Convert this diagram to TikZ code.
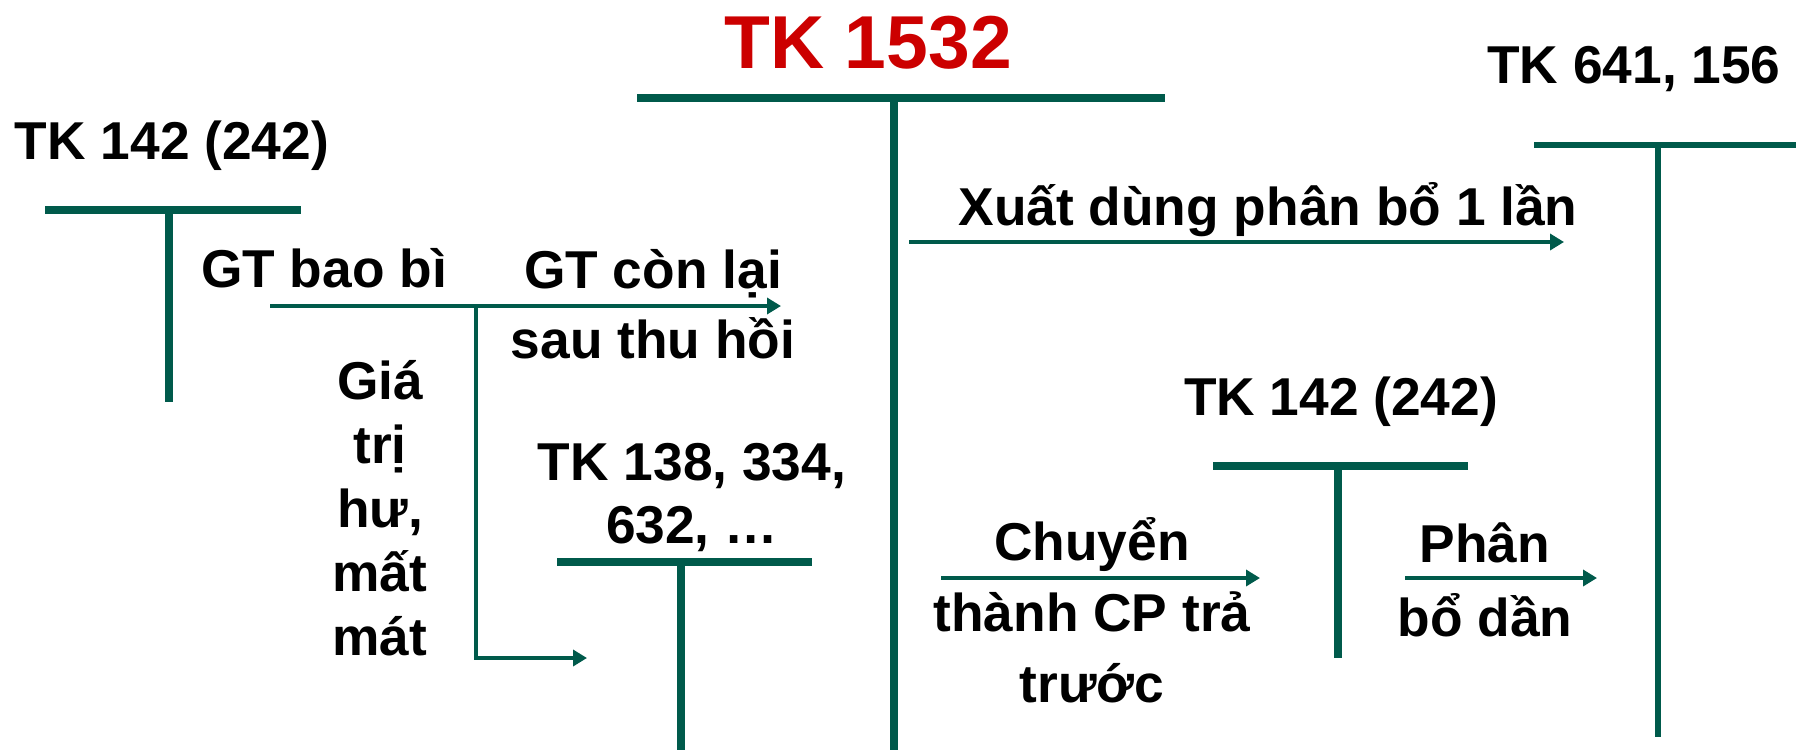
\documentclass[tikz,border=0pt]{standalone}
\usepackage{fontspec}
\setmainfont{Liberation Sans}
\usepackage{tikz}
\usetikzlibrary{arrows.meta}
\usetikzlibrary{calc}
\definecolor{tcolor}{HTML}{005A4B}
\definecolor{titlered}{HTML}{CC0000}

\tikzset{
  txt/.style={inner sep=0pt, anchor=base, align=center, font=\fontsize{53.3}{70}\selectfont\bfseries},
  flow/.style={tcolor, line width=3.5pt, -{Triangle[length=14pt,width=16pt]}},
}

\begin{document}
\begin{tikzpicture}[x=1pt,y=-1pt]
\useasboundingbox (0,0) rectangle (1799,750);
%% T accounts: bar left / bar right / bar height / stem x / stem end / width
\foreach \l/\r/\y/\s/\e/\w in {45/301/210/169/402/8.5, 637/1165/98/894/750/8.5,
    557/812/562/681/750/8.5, 1213/1468/466/1338/658/8.5, 1534/1796/145/1658/737/6.5}
  {
  \draw[tcolor, line width=\w pt] (\l,\y) -- (\r,\y);
  \draw[tcolor, line width=\w pt] (\s,\y) -- (\s,\e);
  }
%% account names (multi-line nodes sit on their last line)
\node[txt, text=titlered, font=\fontsize{75}{80}\selectfont\bfseries] (tk1532) at (868,68) {TK 1532};
\node[txt] (tk142a) at (172,159) {TK 142 (242)};
\node[txt] (tk641) at (1634,83) {TK 641, 156};
\node[txt, font=\fontsize{53.3}{63}\selectfont\bfseries] (tk138) at (692,543) {TK 138, 334,\\632, …};
\node[txt] (tk142b) at (1341,415) {TK 142 (242)};
%% entries
\node[txt] (baobi) at (324,287) {GT bao bì};
\node[txt] (conlai) at (653,358) {GT còn lại\\sau thu hồi};
\node[txt, font=\fontsize{53.3}{64}\selectfont\bfseries] (matmat) at (380,655) {Giá\\trị\\hư,\\mất\\mát};
\node[txt] (xuat) at (1268,225) {Xuất dùng phân bổ 1 lần};
\node[txt, font=\fontsize{53.3}{71}\selectfont\bfseries] (chuyen) at (1092,702) {Chuyển\\thành CP trả\\trước};
\node[txt, font=\fontsize{53.3}{74}\selectfont\bfseries] (phan) at (1485,636) {Phân\\bổ dần};
%% arrow ends
\coordinate (baobiS) at (270,306);
\coordinate (baobiE) at (781,306);
\coordinate (split) at (476,306);
\coordinate (matE) at (587,658);
\coordinate (xuatS) at (909,242);
\coordinate (xuatE) at (1564,242);
\coordinate (chuyenS) at (941,578);
\coordinate (chuyenE) at (1260,578);
\coordinate (phanS) at (1405,578);
\coordinate (phanE) at (1597,578);
\draw[flow] (baobiS) -- (baobiE);
\draw[flow] (split) |- (matE);
\draw[flow] (xuatS) -- (xuatE);
\draw[flow] (chuyenS) -- (chuyenE);
\draw[flow] (phanS) -- (phanE);
\end{tikzpicture}
\end{document}
